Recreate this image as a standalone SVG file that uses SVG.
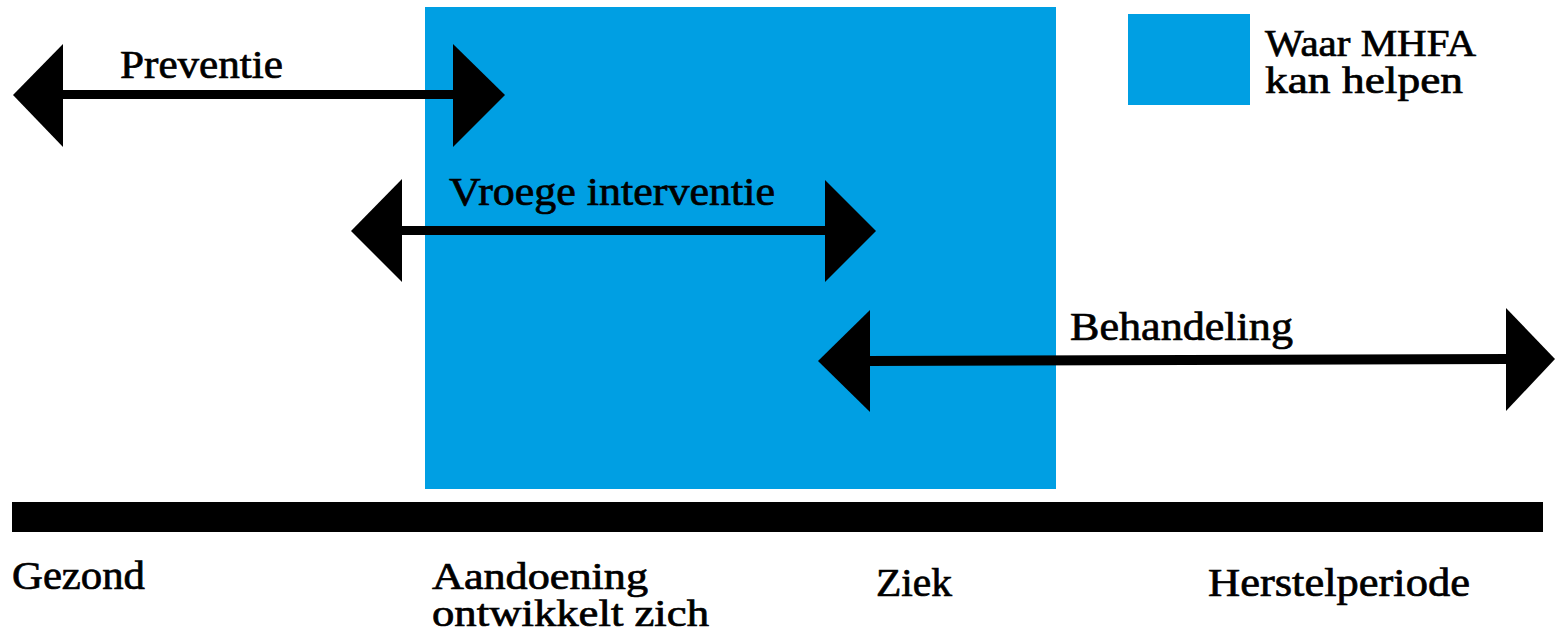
<svg xmlns="http://www.w3.org/2000/svg" width="1556" height="633" viewBox="0 0 1556 633">
<style>
.t{font-family:"Liberation Serif","Times New Roman",serif;font-size:40px;fill:#000;stroke:#000;stroke-width:0.7}
.t2{font-size:37px}
.arr{fill:#000}
</style>
<rect width="1556" height="633" fill="#fff"/>
<g id="mhfa-area"><rect x="425" y="7" width="631" height="482" fill="#009FE3"/></g>
<g id="legend">
<rect x="1128" y="14" width="122" height="91" fill="#009FE3"/>
<text class="t t2" x="1265" y="56" textLength="211" lengthAdjust="spacingAndGlyphs">Waar MHFA</text>
<text class="t t2" x="1265" y="93" textLength="198" lengthAdjust="spacingAndGlyphs">kan helpen</text>
</g>
<g id="connectors">
<g id="preventie-arrow" class="arr">
<rect x="60" y="90" width="396" height="9"/>
<polygon points="13,95 63,44 63,147"/>
<polygon points="453,44 505,95 453,147"/>
</g>
<g id="vroege-arrow" class="arr">
<rect x="399" y="226" width="429" height="9"/>
<polygon points="351,231 402,179 402,282"/>
<polygon points="825,180 876,231 825,282"/>
</g>
<g id="behandeling-arrow" class="arr">
<polygon points="868,356 1508,354 1508,364 868,366"/>
<polygon points="818,361 870,310 870,412"/>
<polygon points="1506,308 1555,359 1506,411"/>
</g>
</g>
<g id="preventie"><text class="t" x="120" y="78" textLength="163" lengthAdjust="spacingAndGlyphs">Preventie</text></g>
<g id="vroege-interventie"><text class="t" x="449" y="205" textLength="326" lengthAdjust="spacingAndGlyphs">Vroege interventie</text></g>
<g id="behandeling"><text class="t" x="1070" y="340" textLength="223" lengthAdjust="spacingAndGlyphs">Behandeling</text></g>
<g id="timeline"><rect x="12" y="502" width="1531" height="30" fill="#000"/></g>
<g id="gezond"><text class="t" x="12" y="589" textLength="133" lengthAdjust="spacingAndGlyphs">Gezond</text></g>
<g id="aandoening">
<text class="t t2" x="432" y="589" textLength="216" lengthAdjust="spacingAndGlyphs">Aandoening</text>
<text class="t t2" x="432" y="626" textLength="277" lengthAdjust="spacingAndGlyphs">ontwikkelt zich</text>
</g>
<g id="ziek"><text class="t" x="876" y="596" textLength="76" lengthAdjust="spacingAndGlyphs">Ziek</text></g>
<g id="herstelperiode"><text class="t" x="1208" y="596" textLength="262" lengthAdjust="spacingAndGlyphs">Herstelperiode</text></g>
</svg>
